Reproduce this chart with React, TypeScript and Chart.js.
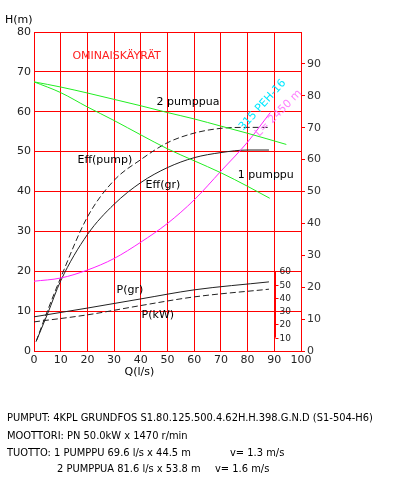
import React, { useEffect, useRef } from "react";
import { Chart, registerables } from "chart.js";

Chart.register(...registerables);

// ---- Data ----
const qTicks = [0, 10, 20, 30, 40, 50, 60, 70, 80, 90, 100];
const hTicks = [0, 10, 20, 30, 40, 50, 60, 70, 80];
const effTicks = [0, 10, 20, 30, 40, 50, 60, 70, 80, 90];
const powerTicks = [10, 20, 30, 40, 50, 60];

// H-Q, 2 pumps
const pump2Q = [0, 10, 20, 30, 40, 50, 60, 70, 80, 94.5];
const pump2H = [67.5, 66.2, 64.7, 63.1, 61.5, 59.8, 58.2, 56.4, 54.6, 51.8];
// H-Q, 1 pump
const pump1Q = [0, 10, 20, 30, 40, 50, 60, 70, 80, 88.3];
const pump1H = [67.5, 64.8, 61.2, 57.8, 54.2, 50.7, 47.7, 44.7, 41.3, 38.3];
// system curve (315 PEH-16, L= 2450 m)
const systemQ = [0, 10, 20, 30, 40, 50, 60, 70, 80, 88.5];
const systemH = [17.5, 18.3, 20.3, 23.2, 27.3, 32.0, 37.9, 45.1, 52.4, 59.8];
// efficiency (%)
const effPumpQ = [0.8, 5, 10, 20, 30, 40, 50, 60, 70, 80, 88];
const effPump = [3, 12.5, 23, 42, 53.5, 60, 65.3, 68.3, 69.8, 70.1, 70.1];
const effGrQ = [0.8, 5, 10, 20, 30, 40, 50, 60, 70, 80, 88];
const effGr = [3, 11.5, 22, 36.5, 46, 52.8, 57.5, 60.6, 62.2, 63, 63];
// power (kW)
const powerQ = [0, 20, 40, 60, 88];
const powerGr = [25.7, 32.3, 39.2, 46.0, 52.0];
const powerKw = [21.9, 27.2, 34.2, 40.7, 46.5];

const infoLines = [
  "PUMPUT: 4KPL GRUNDFOS S1.80.125.500.4.62H.H.398.G.N.D (S1-504-H6)",
  "MOOTTORI: PN 50.0kW x 1470 r/min",
  "TUOTTO: 1 PUMPPU 69.6 l/s x 44.5 m",
  "2 PUMPPUA 81.6 l/s x 53.8 m",
];
const velocityLines = ["v= 1.3 m/s", "v= 1.6 m/s"];

const pts = (xs: number[], ys: number[]) => xs.map((x, i) => ({ x, y: ys[i] }));

const FONT = '"DejaVu Sans", "Liberation Sans", sans-serif';

const annotations = [
  { text: "OMINAISKÄYRÄT", x: 14.4, y: 74, color: "#ff2020", axis: "y" },
  { text: "2 pumppua", x: 45.9, y: 62.5, color: "#000", axis: "y" },
  { text: "Eff(pump)", x: 16.3, y: 47.9, color: "#000", axis: "y" },
  { text: "Eff(gr)", x: 41.8, y: 41.6, color: "#000", axis: "y" },
  { text: "1 pumppu", x: 76.3, y: 44.1, color: "#000", axis: "y" },
  { text: "P(gr)", x: 30.9, y: 15.3, color: "#000", axis: "y" },
  { text: "P(kW)", x: 40.3, y: 9.0, color: "#000", axis: "y" },
];

const annotPlugin = {
  id: "annot",
  afterDraw(chart: any) {
    const { ctx, scales } = chart;
    const x = scales.x;
    const y = scales.y;
    const yP = scales.yP;
    ctx.save();
    ctx.textBaseline = "middle";
    ctx.textAlign = "left";
    ctx.font = `11px ${FONT}`;
    annotations.forEach((a) => {
      ctx.fillStyle = a.color;
      ctx.fillText(a.text, x.getPixelForValue(a.x), y.getPixelForValue(a.y));
    });
    // rotated labels along system curve
    const rot = (t: string, vx: number, vy: number, ang: number, col: string) => {
      ctx.save();
      ctx.translate(x.getPixelForValue(vx), y.getPixelForValue(vy));
      ctx.rotate((ang * Math.PI) / 180);
      ctx.textAlign = "center";
      ctx.fillStyle = col;
      ctx.fillText(t, 0, 0);
      ctx.restore();
    };
    rot("315 PEH-16", 85.6, 61.7, -48, "#00e8ff");
    rot("L= 2450 m", 91.6, 59.6, -45, "#ff80ff");

    // axis titles
    ctx.fillStyle = "#000";
    ctx.textAlign = "left";
    ctx.fillText("H(m)", 5, 20);
    ctx.textAlign = "center";
    ctx.fillText("Q(l/s)", x.getPixelForValue(39.5), 372);

    // mini power axis at Q = 90
    const ax = Math.round(x.getPixelForValue(90)) + 1.5;
    const pTop = yP.getPixelForValue(powerTicks[powerTicks.length - 1]);
    const pBot = yP.getPixelForValue(powerTicks[0]);
    ctx.strokeStyle = "#ff0000";
    ctx.lineWidth = 1;
    ctx.beginPath();
    ctx.moveTo(ax, pTop);
    ctx.lineTo(ax, pBot);
    ctx.stroke();
    ctx.font = `9px ${FONT}`;
    ctx.textAlign = "left";
    ctx.fillStyle = "#222";
    powerTicks.forEach((v) => {
      const py = Math.round(yP.getPixelForValue(v)) + 0.5;
      ctx.beginPath();
      ctx.moveTo(ax, py);
      ctx.lineTo(ax + 3, py);
      ctx.stroke();
      ctx.fillText(String(v), ax + 4, py);
    });
    ctx.restore();
  },
};

export default function App() {
  const ref = useRef<HTMLCanvasElement>(null);
  useEffect(() => {
    document.body.style.margin = "0";
    const canvas = ref.current!;
    const lineDs = (label: string, data: any[], color: string, yAxisID: string, dash: number[] = []) => ({
      label,
      data,
      borderColor: color,
      backgroundColor: color,
      borderWidth: 1,
      borderDash: dash,
      pointRadius: 0,
      fill: false,
      cubicInterpolationMode: "monotone" as const,
      yAxisID,
    });
    const chart = new Chart(canvas, {
      type: "line",
      data: {
        datasets: [
          lineDs("2 pumppua", pts(pump2Q, pump2H), "#22ee22", "y"),
          lineDs("1 pumppu", pts(pump1Q, pump1H), "#22ee22", "y"),
          lineDs("315 PEH-16", pts(systemQ, systemH), "#ff22ff", "y"),
          lineDs("Eff(pump)", pts(effPumpQ, effPump), "#222", "yR", [6, 3]),
          lineDs("Eff(gr)", pts(effGrQ, effGr), "#222", "yR"),
          lineDs("P(gr)", pts(powerQ, powerGr), "#222", "yP"),
          lineDs("P(kW)", pts(powerQ, powerKw), "#222", "yP", [6, 3]),
        ],
      },
      options: {
        animation: false,
        responsive: false,
        devicePixelRatio: 1,
        layout: { padding: { left: 0, top: 32, right: 0, bottom: 0 } },
        plugins: { legend: { display: false }, tooltip: { enabled: false } },
        scales: {
          x: {
            type: "linear",
            min: 0,
            max: 100,
            afterBuildTicks: (s: any) => {
              s.ticks = qTicks.map((v) => ({ value: v }));
            },
            afterFit: (s: any) => {
              s.height = 135;
            },
            grid: { color: "#ff0000", lineWidth: 1, drawTicks: false },
            border: { color: "#ff0000" },
            ticks: { color: "#222", font: { family: FONT, size: 11 }, padding: 3, maxRotation: 0 },
          },
          y: {
            type: "linear",
            position: "left",
            min: 0,
            max: 80,
            afterBuildTicks: (s: any) => {
              s.ticks = hTicks.map((v) => ({ value: v }));
            },
            afterFit: (s: any) => {
              s.width = 34;
            },
            grid: { color: "#ff0000", lineWidth: 1, drawTicks: false },
            border: { color: "#ff0000" },
            ticks: { color: "#222", font: { family: FONT, size: 11 }, padding: 3 },
          },
          yR: {
            type: "linear",
            position: "right",
            min: 0,
            max: 100,
            afterBuildTicks: (s: any) => {
              s.ticks = effTicks.map((v) => ({ value: v }));
            },
            afterFit: (s: any) => {
              s.width = 93;
            },
            grid: { drawOnChartArea: false, color: "#ff0000", tickLength: 4, drawTicks: true },
            border: { color: "#ff0000" },
            ticks: { color: "#333", font: { family: FONT, size: 11 }, padding: 2 },
          },
          yP: {
            type: "linear",
            display: false,
            min: 0,
            max: 240,
          },
        },
      },
      plugins: [annotPlugin],
    });
    return () => chart.destroy();
  }, []);

  const textStyle: React.CSSProperties = {
    position: "absolute",
    fontFamily: '"DejaVu Sans Condensed", "DejaVu Sans", sans-serif',
    fontStretch: "condensed",
    fontSize: 11,
    lineHeight: "14px",
    color: "#000",
    whiteSpace: "pre",
  };
  return (
    <div style={{ position: "absolute", left: 0, top: 0, width: 394, height: 486, background: "#fff" }}>
      <canvas ref={ref} width={394} height={486} style={{ position: "absolute", left: 0, top: 0 }} />
      <div style={{ ...textStyle, left: 7, top: 411 }}>{infoLines[0]}</div>
      <div style={{ ...textStyle, left: 7, top: 429 }}>{infoLines[1]}</div>
      <div style={{ ...textStyle, left: 7, top: 446 }}>{infoLines[2]}</div>
      <div style={{ ...textStyle, left: 230, top: 446 }}>{velocityLines[0]}</div>
      <div style={{ ...textStyle, left: 57, top: 462 }}>{infoLines[3]}</div>
      <div style={{ ...textStyle, left: 215, top: 462 }}>{velocityLines[1]}</div>
    </div>
  );
}
